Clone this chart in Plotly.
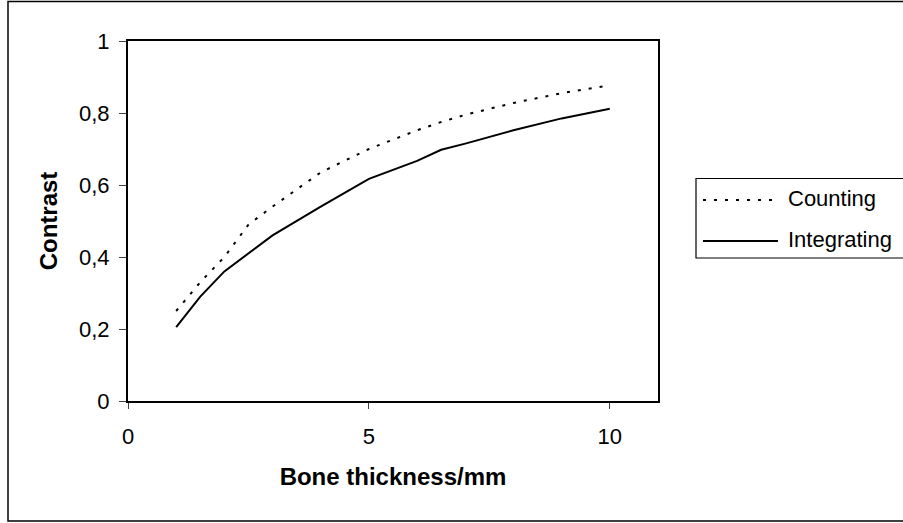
import plotly.graph_objects as go

thickness = [1, 1.5, 2, 2.5, 3, 4, 5, 6, 6.5, 7, 8, 9, 10]
counting = [0.25, 0.33, 0.40, 0.49, 0.54, 0.635, 0.70, 0.752, 0.775, 0.795, 0.828, 0.855, 0.877]
integrating = [0.205, 0.29, 0.36, 0.41, 0.46, 0.54, 0.617, 0.667, 0.698, 0.715, 0.752, 0.785, 0.812]
series_names = ["Counting", "Integrating"]

y_ticks = [0, 0.2, 0.4, 0.6, 0.8, 1]
y_ticktext = ["0", "0,2", "0,4", "0,6", "0,8", "1"]
x_ticks = [0, 5, 10]
x_ticktext = ["0", "5", "10"]

FONT = "Liberation Sans, Arial, sans-serif"
DASH = "3px,8px"

# plot area in pixels: left 128, right 658, top 41, bottom 401
L, R, T, B = 128, 658, 41, 401
PW, PH = R - L, B - T


def px(x):
    return (x - L) / PW


def py(y):
    return (B - y) / PH


fig = go.Figure()
fig.add_trace(go.Scatter(x=thickness, y=counting, mode="lines", name=series_names[0],
                         line=dict(color="black", width=2, dash=DASH), showlegend=False))
fig.add_trace(go.Scatter(x=thickness, y=integrating, mode="lines", name=series_names[1],
                         line=dict(color="black", width=2), showlegend=False))

shapes = [
    # outer chart border
    dict(type="rect", xref="paper", yref="paper",
         x0=px(8), x1=px(912), y0=py(521), y1=py(1.5),
         line=dict(color="black", width=1.5), fillcolor="rgba(0,0,0,0)", layer="below"),
    # legend box
    dict(type="rect", xref="paper", yref="paper",
         x0=px(696), x1=px(912), y0=py(258), y1=py(178.5),
         line=dict(color="black", width=1.2), fillcolor="white"),
    # legend samples
    dict(type="line", xref="paper", yref="paper",
         x0=px(703), x1=px(778), y0=py(200), y1=py(200),
         line=dict(color="black", width=2, dash=DASH)),
    dict(type="line", xref="paper", yref="paper",
         x0=px(703), x1=px(778), y0=py(241), y1=py(241),
         line=dict(color="black", width=2)),
]

annotations = [
    dict(text=series_names[0], xref="paper", yref="paper", x=px(786), y=py(198),
         xanchor="left", yanchor="middle", showarrow=False,
         font=dict(family=FONT, size=22, color="black")),
    dict(text=series_names[1], xref="paper", yref="paper", x=px(786), y=py(239),
         xanchor="left", yanchor="middle", showarrow=False,
         font=dict(family=FONT, size=22, color="black")),
]

fig.update_layout(
    width=903, height=523,
    margin=dict(l=L, r=903 - R, t=T, b=523 - B),
    paper_bgcolor="white", plot_bgcolor="white",
    font=dict(family=FONT, size=22, color="black"),
    showlegend=False,
    xaxis=dict(range=[0, 11], tickvals=x_ticks, ticktext=x_ticktext,
               showgrid=False, zeroline=False, showline=True, linecolor="black",
               linewidth=2, mirror=True, ticks="outside", ticklen=6, tickwidth=1,
               tickcolor="#444", ticklabelstandoff=9,
               tickfont=dict(size=22),
               title=dict(text="<b>Bone thickness/mm</b>", font=dict(size=24), standoff=20)),
    yaxis=dict(range=[0, 1], tickvals=y_ticks, ticktext=y_ticktext,
               showgrid=False, zeroline=False, showline=True, linecolor="black",
               linewidth=2, mirror=True, ticks="outside", ticklen=7, tickwidth=1,
               tickcolor="#444", ticklabelstandoff=5,
               tickfont=dict(size=22),
               title=dict(text="<b>Contrast</b>", font=dict(size=24), standoff=15)),
    shapes=shapes,
    annotations=annotations,
)

fig.write_html("out.html")
